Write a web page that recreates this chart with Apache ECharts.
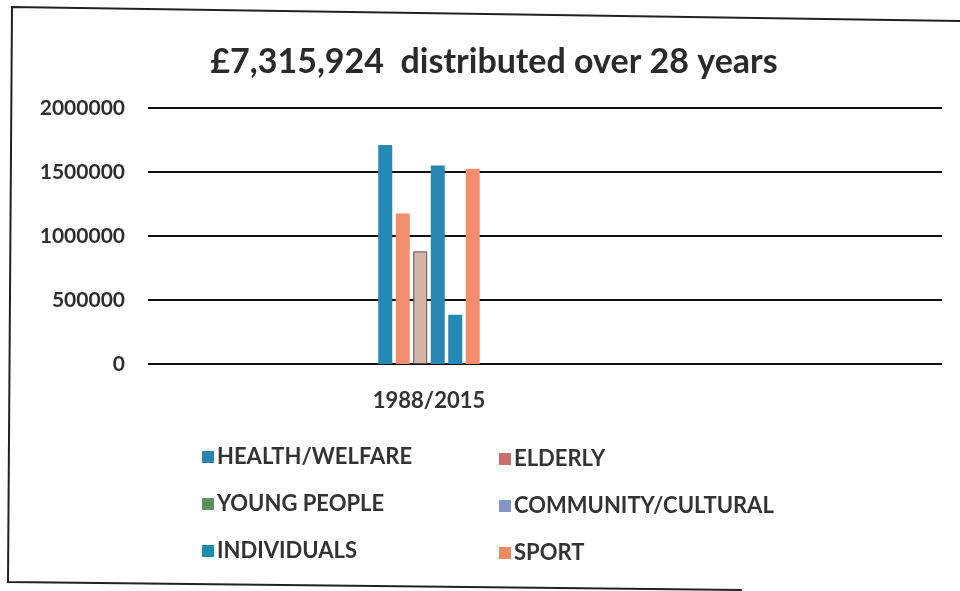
<!DOCTYPE html>
<html><head><meta charset="utf-8">
<script src="https://cdn.jsdelivr.net/npm/echarts@6/dist/echarts.min.js"></script>
<style>html,body{margin:0;padding:0;background:#fff}#c{width:960px;height:591px}</style>
</head><body><div id="c"></div>
<script>
const titleText = '£7,315,924  distributed over 28 years';
const categories = ['1988/2015'];
const seriesNames = ['HEALTH/WELFARE','ELDERLY','YOUNG PEOPLE','COMMUNITY/CULTURAL','INDIVIDUALS','SPORT'];
const healthWelfare = [1710000];
const elderly = [1175000];
const youngPeople = [880000];
const communityCultural = [1550000];
const individuals = [385000];
const sport = [1525000];
const yTicks = [0, 500000, 1000000, 1500000, 2000000];

const seriesValues = [healthWelfare, elderly, youngPeople, communityCultural, individuals, sport];
const barColors = ['#2589b6','#f28d6d','#d4b3a8','#2a87b4','#2589b6','#f28d6d'];
const legendColors = ['#2a85b2','#c96d6d','#5f8f60','#7f97c2','#1c8dad','#ee8a62'];
const font = 'Lato, "Open Sans", sans-serif';

const chart = echarts.init(document.getElementById('c'));
const legendItem = i => ({name: seriesNames[i], itemStyle: {color: legendColors[i], borderWidth: 0}});
const legendText = {fontFamily: font, fontSize: 22, fontWeight: 'bold', color: '#333', padding: [0,0,0,-2]};
chart.setOption({
  backgroundColor: '#fff',
  animation: false,
  title: {text: titleText, left: 489, top: 40, textAlign: 'center',
    textStyle: {fontFamily: font, fontSize: 34, fontWeight: 'bold', color: '#2a2a2a'}},
  legend: [
    {orient: 'vertical', left: 197, top: 441, itemWidth: 12, itemHeight: 12, itemGap: 25,
     icon: 'rect', data: [0,2,4].map(legendItem), textStyle: legendText},
    {orient: 'vertical', left: 494, top: 443, itemWidth: 12, itemHeight: 12, itemGap: 25,
     icon: 'rect', data: [1,3,5].map(legendItem), textStyle: legendText}
  ],
  grid: [
    {left: 148, right: 18, top: 108, bottom: 227},
    {left: 148, right: 250, top: 108, bottom: 227}
  ],
  xAxis: [
    {gridIndex: 0, type: 'category', data: categories, show: false},
    {gridIndex: 1, type: 'category', data: categories,
     axisLine: {show: false}, axisTick: {show: false},
     axisLabel: {margin: 26, fontFamily: font, fontSize: 22, fontWeight: 'bold', color: '#333'}}
  ],
  yAxis: [
    {gridIndex: 0, type: 'value', min: yTicks[0], max: yTicks[yTicks.length-1], interval: 500000,
     axisLine: {show: false}, axisTick: {show: false},
     axisLabel: {margin: 23, fontFamily: font, fontSize: 21, fontWeight: 'bold', color: '#2e2e2e',
       formatter: v => String(v)},
     splitLine: {lineStyle: {color: '#111', width: 2}}},
    {gridIndex: 1, type: 'value', min: yTicks[0], max: yTicks[yTicks.length-1], interval: 500000,
     show: false, splitLine: {show: false}}
  ],
  series: seriesNames.map((n, i) => ({
    name: n, type: 'bar', xAxisIndex: 1, yAxisIndex: 1,
    data: seriesValues[i], barWidth: 14, barGap: '25%',
    itemStyle: {color: barColors[i], borderColor: i === 2 ? '#555' : barColors[i], borderWidth: i === 2 ? 1 : 0}
  })),
  graphic: [
    {type: 'polyline', shape: {points: [[960,21],[12,7],[8,582],[742,590]]},
     style: {stroke: '#222', lineWidth: 2, fill: null}, silent: true}
  ]
});
</script></body></html>
